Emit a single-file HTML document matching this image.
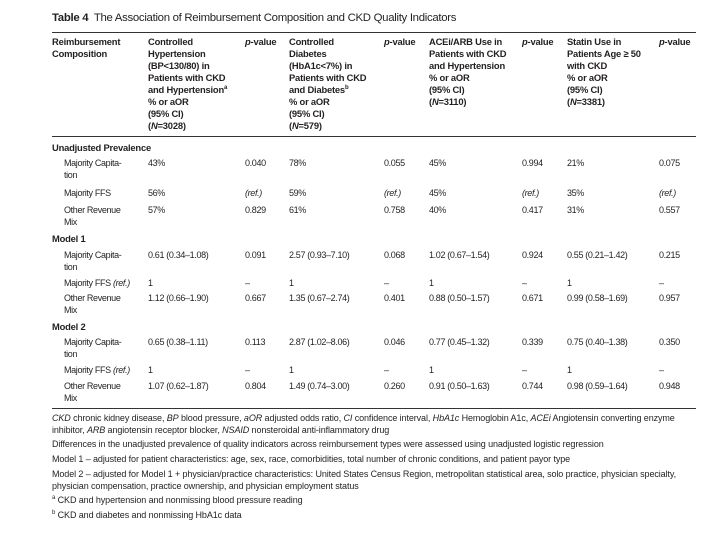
<!DOCTYPE html>
<html><head><meta charset="utf-8"><style>
body{margin:0;width:728px;height:543px;background:#fff;position:relative;overflow:hidden;font-family:"Liberation Sans",sans-serif;color:#231f20}
.t{position:absolute;font-size:9px;line-height:12px;white-space:nowrap;letter-spacing:-0.35px}
.b{font-weight:bold;font-size:9.4px;letter-spacing:-0.2px}
.f{position:absolute;left:52px;font-size:9px;line-height:12px;white-space:nowrap;letter-spacing:-0.1px}
.r{position:absolute;left:52px;width:644px;background:#333}
sup{font-size:6px;line-height:0}
</style></head><body>
<div class="t" style="left:52px;top:12px;font-size:11.4px;letter-spacing:-0.3px"><b>Table 4</b>&nbsp; The Association of Reimbursement Composition and CKD Quality Indicators</div>
<div class="r" style="top:32px;height:1px"></div>
<div class="t b" style="left:52px;top:36px">Reimbursement<br>Composition</div>
<div class="t b" style="left:148px;top:36px">Controlled<br>Hypertension<br>(BP&lt;130/80) in<br>Patients with CKD<br>and Hypertension<sup>a</sup><br>% or aOR<br>(95% CI)<br>(<i>N</i>=3028)</div>
<div class="t b" style="left:245px;top:36px"><i>p</i>-value</div>
<div class="t b" style="left:289px;top:36px">Controlled<br>Diabetes<br>(HbA1c&lt;7%) in<br>Patients with CKD<br>and Diabetes<sup>b</sup><br>% or aOR<br>(95% CI)<br>(<i>N</i>=579)</div>
<div class="t b" style="left:384px;top:36px"><i>p</i>-value</div>
<div class="t b" style="left:429px;top:36px">ACEi/ARB Use in<br>Patients with CKD<br>and Hypertension<br>% or aOR<br>(95% CI)<br>(<i>N</i>=3110)</div>
<div class="t b" style="left:522px;top:36px"><i>p</i>-value</div>
<div class="t b" style="left:567px;top:36px">Statin Use in<br>Patients Age ≥ 50<br>with CKD<br>% or aOR<br>(95% CI)<br>(<i>N</i>=3381)</div>
<div class="t b" style="left:659px;top:36px"><i>p</i>-value</div>
<div class="r" style="top:136px;height:1px"></div>

<div class="t b" style="left:52px;top:142px">Unadjusted Prevalence</div>
<div class="t" style="left:64px;top:157px">Majority Capita-<br>tion</div>
<div class="t" style="left:148px;top:157px">43%</div><div class="t" style="left:245px;top:157px">0.040</div><div class="t" style="left:289px;top:157px">78%</div><div class="t" style="left:384px;top:157px">0.055</div><div class="t" style="left:429px;top:157px">45%</div><div class="t" style="left:522px;top:157px">0.994</div><div class="t" style="left:567px;top:157px">21%</div><div class="t" style="left:659px;top:157px">0.075</div>
<div class="t" style="left:64px;top:187px">Majority FFS</div>
<div class="t" style="left:148px;top:187px">56%</div><div class="t" style="left:245px;top:187px"><i>(ref.)</i></div><div class="t" style="left:289px;top:187px">59%</div><div class="t" style="left:384px;top:187px"><i>(ref.)</i></div><div class="t" style="left:429px;top:187px">45%</div><div class="t" style="left:522px;top:187px"><i>(ref.)</i></div><div class="t" style="left:567px;top:187px">35%</div><div class="t" style="left:659px;top:187px"><i>(ref.)</i></div>
<div class="t" style="left:64px;top:204px">Other Revenue<br>Mix</div>
<div class="t" style="left:148px;top:204px">57%</div><div class="t" style="left:245px;top:204px">0.829</div><div class="t" style="left:289px;top:204px">61%</div><div class="t" style="left:384px;top:204px">0.758</div><div class="t" style="left:429px;top:204px">40%</div><div class="t" style="left:522px;top:204px">0.417</div><div class="t" style="left:567px;top:204px">31%</div><div class="t" style="left:659px;top:204px">0.557</div>

<div class="t b" style="left:52px;top:233px">Model 1</div>
<div class="t" style="left:64px;top:249px">Majority Capita-<br>tion</div>
<div class="t" style="left:148px;top:249px">0.61 (0.34–1.08)</div><div class="t" style="left:245px;top:249px">0.091</div><div class="t" style="left:289px;top:249px">2.57 (0.93–7.10)</div><div class="t" style="left:384px;top:249px">0.068</div><div class="t" style="left:429px;top:249px">1.02 (0.67–1.54)</div><div class="t" style="left:522px;top:249px">0.924</div><div class="t" style="left:567px;top:249px">0.55 (0.21–1.42)</div><div class="t" style="left:659px;top:249px">0.215</div>
<div class="t" style="left:64px;top:277px">Majority FFS <i>(ref.)</i></div>
<div class="t" style="left:148px;top:277px">1</div><div class="t" style="left:245px;top:277px">–</div><div class="t" style="left:289px;top:277px">1</div><div class="t" style="left:384px;top:277px">–</div><div class="t" style="left:429px;top:277px">1</div><div class="t" style="left:522px;top:277px">–</div><div class="t" style="left:567px;top:277px">1</div><div class="t" style="left:659px;top:277px">–</div>
<div class="t" style="left:64px;top:292px">Other Revenue<br>Mix</div>
<div class="t" style="left:148px;top:292px">1.12 (0.66–1.90)</div><div class="t" style="left:245px;top:292px">0.667</div><div class="t" style="left:289px;top:292px">1.35 (0.67–2.74)</div><div class="t" style="left:384px;top:292px">0.401</div><div class="t" style="left:429px;top:292px">0.88 (0.50–1.57)</div><div class="t" style="left:522px;top:292px">0.671</div><div class="t" style="left:567px;top:292px">0.99 (0.58–1.69)</div><div class="t" style="left:659px;top:292px">0.957</div>

<div class="t b" style="left:52px;top:321px">Model 2</div>
<div class="t" style="left:64px;top:336px">Majority Capita-<br>tion</div>
<div class="t" style="left:148px;top:336px">0.65 (0.38–1.11)</div><div class="t" style="left:245px;top:336px">0.113</div><div class="t" style="left:289px;top:336px">2.87 (1.02–8.06)</div><div class="t" style="left:384px;top:336px">0.046</div><div class="t" style="left:429px;top:336px">0.77 (0.45–1.32)</div><div class="t" style="left:522px;top:336px">0.339</div><div class="t" style="left:567px;top:336px">0.75 (0.40–1.38)</div><div class="t" style="left:659px;top:336px">0.350</div>
<div class="t" style="left:64px;top:364px">Majority FFS <i>(ref.)</i></div>
<div class="t" style="left:148px;top:364px">1</div><div class="t" style="left:245px;top:364px">–</div><div class="t" style="left:289px;top:364px">1</div><div class="t" style="left:384px;top:364px">–</div><div class="t" style="left:429px;top:364px">1</div><div class="t" style="left:522px;top:364px">–</div><div class="t" style="left:567px;top:364px">1</div><div class="t" style="left:659px;top:364px">–</div>
<div class="t" style="left:64px;top:380px">Other Revenue<br>Mix</div>
<div class="t" style="left:148px;top:380px">1.07 (0.62–1.87)</div><div class="t" style="left:245px;top:380px">0.804</div><div class="t" style="left:289px;top:380px">1.49 (0.74–3.00)</div><div class="t" style="left:384px;top:380px">0.260</div><div class="t" style="left:429px;top:380px">0.91 (0.50–1.63)</div><div class="t" style="left:522px;top:380px">0.744</div><div class="t" style="left:567px;top:380px">0.98 (0.59–1.64)</div><div class="t" style="left:659px;top:380px">0.948</div>
<div class="r" style="top:408px;height:1px"></div>

<div class="f" style="top:412px"><i>CKD</i> chronic kidney disease, <i>BP</i> blood pressure, <i>aOR</i> adjusted odds ratio, <i>CI</i> confidence interval, <i>HbA1c</i> Hemoglobin A1c, <i>ACEi</i> Angiotensin converting enzyme<br>inhibitor, <i>ARB</i> angiotensin receptor blocker, <i>NSAID</i> nonsteroidal anti-inflammatory drug</div>
<div class="f" style="top:438px">Differences in the unadjusted prevalence of quality indicators across reimbursement types were assessed using unadjusted logistic regression</div>
<div class="f" style="top:453px">Model 1 – adjusted for patient characteristics: age, sex, race, comorbidities, total number of chronic conditions, and patient payor type</div>
<div class="f" style="top:468px">Model 2 – adjusted for Model 1 + physician/practice characteristics: United States Census Region, metropolitan statistical area, solo practice, physician specialty,<br>physician compensation, practice ownership, and physician employment status</div>
<div class="f" style="top:494px"><sup>a</sup> CKD and hypertension and nonmissing blood pressure reading</div>
<div class="f" style="top:509px"><sup>b</sup> CKD and diabetes and nonmissing HbA1c data</div>
</body></html>
